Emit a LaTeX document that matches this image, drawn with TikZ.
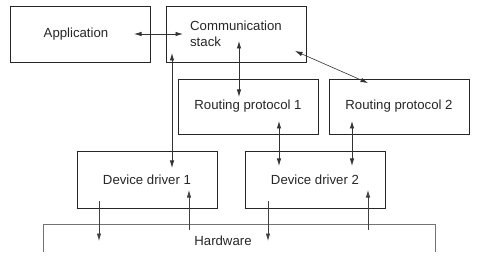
\documentclass[tikz,border=0pt]{standalone}
\usepackage{fontspec}
\setmainfont{Liberation Sans}
\usetikzlibrary{arrows.meta}
\begin{document}
\begin{tikzpicture}[x=1pt,y=-1pt,
  layer/.style={draw=black!85, line width=0.9pt, minimum width=140pt, inner sep=0pt,
    font=\fontsize{13.2pt}{16pt}\selectfont, text=black!85},
  link/.style={line width=0.8pt, draw=black!80, {Latex[length=7.5pt,width=4.5pt]}-{Latex[length=7.5pt,width=4.5pt]}},
  oneway/.style={line width=0.8pt, draw=black!75, -{Latex[length=7.5pt,width=4.5pt]}}]
\useasboundingbox (0,0) rectangle (480,262);

% layers
\node[layer, minimum height=56pt] (app)  at (80,34)    {\hspace*{-8pt}Application};
\node[layer, minimum height=56pt, align=left] (comm) at (236,34) {Communication\\stack};
\node[layer, minimum height=55pt] (rp1)  at (248,106.5) {Routing protocol 1};
\node[layer, minimum height=55pt] (rp2)  at (399,106.5) {Routing protocol 2};
\node[layer, minimum height=57pt] (dd1)  at (147,179.5) {Device driver 1};
\node[layer, minimum height=57pt] (dd2)  at (315,179.5) {Device driver 2};

% hardware: open frame with its label
\draw[line width=0.9pt, draw=black!55] (43,252) -- (43,224) -- (435,224) -- (435,252);
\node[font=\fontsize{13.2pt}{16pt}\selectfont, text=black!85] (hw) at (223,241) {Hardware};

% connector end points
\coordinate (appR)  at (134,34);
\coordinate (commL) at (183,34);
\coordinate (commD) at (239,41);
\coordinate (rp1U)  at (239,97);
\coordinate (commE) at (295,51);
\coordinate (rp2U)  at (368,83);
\coordinate (commS) at (172,53);
\coordinate (dd1U)  at (172,168);
\coordinate (rp1D)  at (279,121);
\coordinate (dd2a)  at (279,166);
\coordinate (rp2D)  at (352,121);
\coordinate (dd2b)  at (352,166);
\coordinate (dd1out) at (99,201);
\coordinate (hw1in)  at (99,241);
\coordinate (hw1out) at (189,230);
\coordinate (dd1in)  at (189,190);
\coordinate (dd2out) at (268,201);
\coordinate (hw2in)  at (268,241);
\coordinate (hw2out) at (368,230);
\coordinate (dd2in)  at (368,190);

% two-way links
\draw[link] (appR) -- (commL);
\draw[link] (commD) -- (rp1U);
\draw[link, line width=0.6pt] (commE) -- (rp2U);
\draw[link] (commS) -- (dd1U);
\draw[link] (rp1D) -- (dd2a);
\draw[link] (rp2D) -- (dd2b);

% driver / hardware traffic
\draw[oneway] (dd1out) -- (hw1in);
\draw[oneway] (hw1out) -- (dd1in);
\draw[oneway] (dd2out) -- (hw2in);
\draw[oneway] (hw2out) -- (dd2in);
\end{tikzpicture}
\end{document}
